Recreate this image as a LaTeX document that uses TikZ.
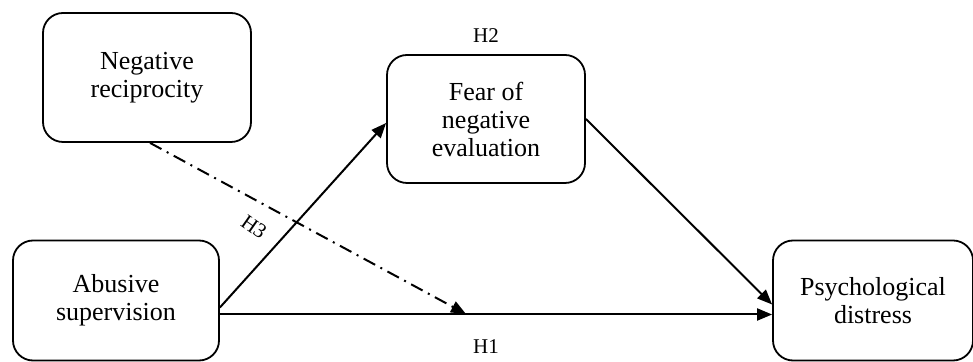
\documentclass[tikz,border=0pt]{standalone}
\usepackage{fontspec}
\setmainfont{Liberation Serif}
\usetikzlibrary{arrows.meta}
\tikzset{
  varbox/.style={draw,line width=0.9pt,rounded corners=10pt,align=center,
    font=\fontsize{13}{14}\selectfont,inner sep=2pt},
  path/.style={line width=1pt,-{Triangle[length=7.5pt,width=6pt]}},
  hlabel/.style={font=\fontsize{10.5}{12}\selectfont,inner sep=1pt}
}
\begin{document}
\begin{tikzpicture}[x=0.5pt,y=-0.5pt]
        \useasboundingbox (0,0) rectangle (973,362);
        % variables
        \node[varbox,minimum width=104pt,minimum height=64.5pt] (nrec) at (147,77.5) {Negative\\reciprocity};
        \node[varbox,minimum width=99pt,minimum height=64pt] (fear) at (486,119) {Fear of\\negative\\evaluation};
        \node[varbox,minimum width=103pt,minimum height=60pt] (abuse) at (116,300.5) {Abusive\\supervision};
        \node[varbox,minimum width=100pt,minimum height=60pt] (psych) at (873,300.5) {Psychological\\distress};
        % hypotheses
        \draw[path] ([yshift=-3.5pt]abuse.east) -- ([yshift=-2pt]fear.west);
        \draw[path] (fear.east) -- ([yshift=-2pt]psych.west);
        \draw[path] ([yshift=-7pt]abuse.east) -- ([yshift=-7pt]psych.west);
        \coordinate (h3end) at (466,314);
        \draw[path,dash pattern=on 6.5pt off 3pt on 1pt off 3pt] ([xshift=1.5pt]nrec.south) -- (h3end);
        \node[hlabel] (h2) at (486,36) {H2};
        \node[hlabel] (h1) at (486,347) {H1};
        \node[hlabel,rotate=-35] (h3) at (254,227) {H3};
      \end{tikzpicture}
\end{document}
